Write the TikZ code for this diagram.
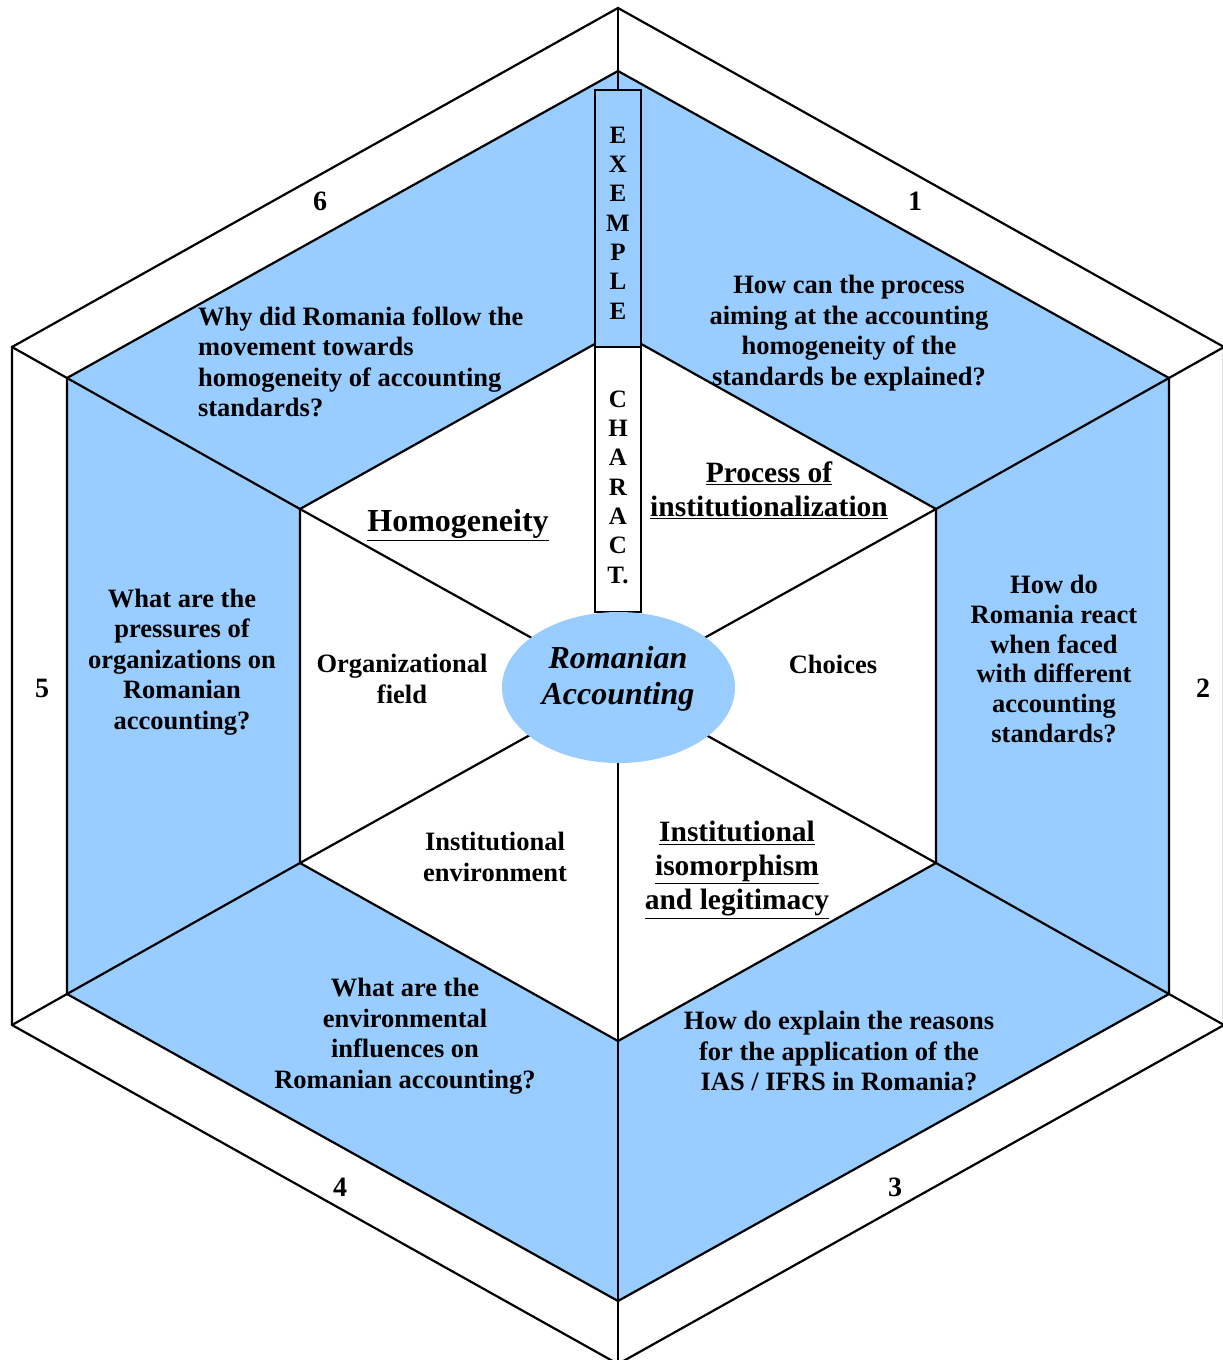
\documentclass[tikz,border=0pt]{standalone}
\usepackage{fontspec}
\setmainfont{Liberation Serif}
\usetikzlibrary{shapes.geometric}
\definecolor{lblue}{RGB}{153,204,255}
\begin{document}
\begin{tikzpicture}[x=1pt,y=-1pt,line width=2.2pt,
  txt/.style={font=\fontsize{26.5}{30.5}\selectfont\bfseries,align=center,inner sep=0pt},
  num/.style={font=\fontsize{28}{32}\selectfont\bfseries,inner sep=0pt},
  big/.style={font=\fontsize{29.5}{34}\selectfont\bfseries,align=center,inner sep=0pt},
  vert/.style={font=\fontsize{25}{29.3}\selectfont\bfseries,align=center,inner sep=0pt},
  ra/.style={font=\fontsize{32}{36}\selectfont\bfseries\itshape,align=center,inner sep=0pt},
  edge/.style={draw=black,line width=2.2pt},
  boxe/.style={draw=black,line width=2.2pt}]
\useasboundingbox (0,0) rectangle (1223,1360);
\clip (0,0) rectangle (1223,1360);
% vertices
\coordinate (C) at (618,686);
\coordinate (O0) at (618,8);   \coordinate (O1) at (1224,347); \coordinate (O2) at (1224,1025);
\coordinate (O3) at (618,1364);\coordinate (O4) at (12,1025);  \coordinate (O5) at (12,347);
\coordinate (M0) at (618,71);  \coordinate (M1) at (1169,378); \coordinate (M2) at (1169,994);
\coordinate (M3) at (618,1301);\coordinate (M4) at (67,994);   \coordinate (M5) at (67,378);
\coordinate (I0) at (618,331); \coordinate (I1) at (936,509);  \coordinate (I2) at (936,863);
\coordinate (I3) at (618,1041);\coordinate (I4) at (300,863);  \coordinate (I5) at (300,509);
% fills
\fill[lblue] (M0)--(M1)--(M2)--(M3)--(M4)--(M5)--cycle;
\fill[white] (I0)--(I1)--(I2)--(I3)--(I4)--(I5)--cycle;
% hexagon outlines
\draw[edge] (O0)--(O1)--(O2)--(O3)--(O4)--(O5)--cycle;
\draw[edge] (M0)--(M1)--(M2)--(M3)--(M4)--(M5)--cycle;
\draw[edge] (I0)--(I1)--(I2)--(I3)--(I4)--(I5)--cycle;
% radial lines
\foreach \k in {1,2,3,4,5}{\draw[edge] (O\k)--(M\k)--(I\k)--(C);}
% top boxes
\node[boxe,fill=lblue,minimum width=46pt,minimum height=257pt,inner sep=0pt] (ex) at (618,218.5) {};
\node[boxe,fill=white,minimum width=46pt,minimum height=265pt,inner sep=0pt] (ch) at (618,479.5) {};
\draw[edge] (O0)--(M0)--(ex.north);
\node[vert] (exl) at (618,223) {E\\X\\E\\M\\P\\L\\E};
\node[vert] (chl) at (618,487) {C\\H\\A\\R\\A\\C\\T.};
% ellipse
\node[fill=lblue,ellipse,minimum width=233pt,minimum height=151pt,inner sep=0pt] (ell) at (618.5,687.5) {};
\node[ra] (ratxt) at (618,679) {Romanian\\Accounting};
% numbers
\node[num] (n1) at (915,201) {1};
\node[num] (n2) at (1203,688) {2};
\node[num] (n3) at (895,1187) {3};
\node[num] (n4) at (340,1187) {4};
\node[num] (n5) at (42,688) {5};
\node[num] (n6) at (320,201) {6};
% questions
\node[txt,align=left,anchor=west] (q6) at (197,362) {Why did Romania follow the\\movement towards\\homogeneity of accounting\\standards?};
\node[txt] (q1) at (849,333) {How can the process\\aiming at the accounting\\homogeneity of the\\standards be explained?};
\node[txt,font=\fontsize{26.5}{29.8}\selectfont\bfseries] (q2) at (1054,659) {How do\\Romania react\\when faced\\with different\\accounting\\standards?};
\node[txt] (q3) at (839,1051) {How do explain the reasons\\for the application of the\\IAS / IFRS in Romania?};
\node[txt] (q4) at (405,1036) {What are the\\environmental\\influences on\\Romanian accounting?};
\node[txt] (q5) at (182,662) {What are the\\pressures of\\organizations on\\Romanian\\accounting?};
% inner labels
\node[big,font=\fontsize{32}{36}\selectfont\bfseries] (homog) at (458,525) {\underline{Homogeneity}};
\node[big] (proc) at (769,490) {\underline{Process of}\\\underline{institutionalization}};
\node[txt] (org) at (402,679) {Organizational\\field};
\node[txt] (cho) at (833,664) {Choices};
\node[txt] (env) at (495,857) {Institutional\\environment};
\node[big] (iso) at (737,870) {\underline{Institutional}\\\underline{isomorphism}\\\underline{and legitimacy}};
\end{tikzpicture}
\end{document}
